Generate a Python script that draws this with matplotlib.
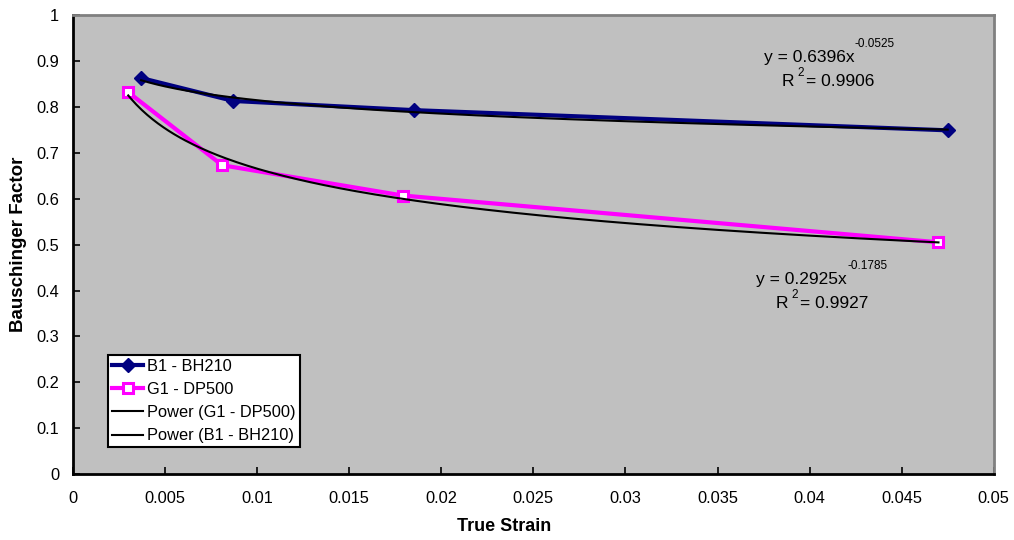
import numpy as np
import matplotlib
matplotlib.use("Agg")
import matplotlib.pyplot as plt

plt.rcParams['font.family'] = ['Liberation Sans', 'DejaVu Sans']

b1_x = [0.0037, 0.0087, 0.0185, 0.0475]
b1_y = [0.863, 0.813, 0.793, 0.749]
g1_x = [0.0030, 0.0081, 0.0179, 0.0470]
g1_y = [0.832, 0.673, 0.607, 0.505]

b1_a, b1_b, b1_r2 = 0.6396, -0.0525, 0.9906
g1_a, g1_b, g1_r2 = 0.2925, -0.1785, 0.9927

xticks = [0, 0.005, 0.01, 0.015, 0.02, 0.025, 0.03, 0.035, 0.04, 0.045, 0.05]
xticklabels = ['0', '0.005', '0.01', '0.015', '0.02', '0.025', '0.03', '0.035', '0.04', '0.045', '0.05']
yticks = [0, 0.1, 0.2, 0.3, 0.4, 0.5, 0.6, 0.7, 0.8, 0.9, 1]
yticklabels = ['0', '0.1', '0.2', '0.3', '0.4', '0.5', '0.6', '0.7', '0.8', '0.9', '1']

fig = plt.figure(figsize=(10.14, 5.4), dpi=100)
ax = fig.add_axes([0.072, 0.122, 0.908, 0.850])
ax.set_facecolor('#c0c0c0')

ax.plot(b1_x, b1_y, color='#000080', lw=3, marker='D', ms=7.5, mfc='#000080', mec='#000080',
        label='B1 - BH210', zorder=3)
ax.plot(g1_x, g1_y, color='#ff00ff', lw=3, marker='s', ms=7, mfc='white', mec='#ff00ff', mew=2.2,
        label='G1 - DP500', zorder=3)

xg = np.linspace(min(g1_x), max(g1_x), 300)
ax.plot(xg, g1_a * xg ** g1_b, color='black', lw=1.5, label='Power (G1 - DP500)', zorder=4)
xb = np.linspace(min(b1_x), max(b1_x), 300)
ax.plot(xb, b1_a * xb ** b1_b, color='black', lw=1.5, label='Power (B1 - BH210)', zorder=4)

ax.set_xlim(0, 0.05)
ax.set_ylim(0, 1)
ax.set_xticks(xticks)
ax.set_xticklabels(xticklabels)
ax.set_yticks(yticks)
ax.set_yticklabels(yticklabels)
ax.tick_params(axis='both', direction='in', length=5, width=1.2, labelsize=11.8, colors='black')
ax.tick_params(axis='x', pad=12)
ax.tick_params(axis='y', pad=10)

for s in ['left', 'bottom']:
    ax.spines[s].set_color('black')
    ax.spines[s].set_linewidth(2)
for s in ['top', 'right']:
    ax.spines[s].set_color('#808080')
    ax.spines[s].set_linewidth(2)

ax.set_xlabel('True Strain', fontsize=13, fontweight='bold')
ax.set_ylabel('Bauschinger Factor', fontsize=13.5, fontweight='bold')
ax.xaxis.set_label_coords(0.468, -0.095)
ax.yaxis.set_label_coords(-0.05, 0.5)

fs = 12.5
sfs = 8.5
# B1 equation
ax.text(0.0375, 0.908, 'y = %.4fx' % b1_a, fontsize=fs, ha='left', va='center')
ax.text(0.04245, 0.937, '%.4f' % b1_b, fontsize=sfs, ha='left', va='center')
ax.text(0.0385, 0.855, 'R', fontsize=fs, ha='left', va='center')
ax.text(0.03935, 0.874, '2', fontsize=sfs, ha='left', va='center')
ax.text(0.0398, 0.855, '= %.4f' % b1_r2, fontsize=fs, ha='left', va='center')
# G1 equation
ax.text(0.03708, 0.4247, 'y = %.4fx' % g1_a, fontsize=fs, ha='left', va='center')
ax.text(0.04207, 0.4537, '%.4f' % g1_b, fontsize=sfs, ha='left', va='center')
ax.text(0.03817, 0.3717, 'R', fontsize=fs, ha='left', va='center')
ax.text(0.03900, 0.3907, '2', fontsize=sfs, ha='left', va='center')
ax.text(0.03947, 0.3717, '= %.4f' % g1_r2, fontsize=fs, ha='left', va='center')

leg = ax.legend(loc='lower left', bbox_to_anchor=(0.038, 0.058), fontsize=11.8, frameon=True,
                fancybox=False, edgecolor='black', facecolor='white', framealpha=1,
                borderpad=0.25, labelspacing=0.5, handlelength=1.9, handletextpad=0.25,
                borderaxespad=0)
leg.get_frame().set_linewidth(1.5)

fig.savefig('out.png', dpi=100)
